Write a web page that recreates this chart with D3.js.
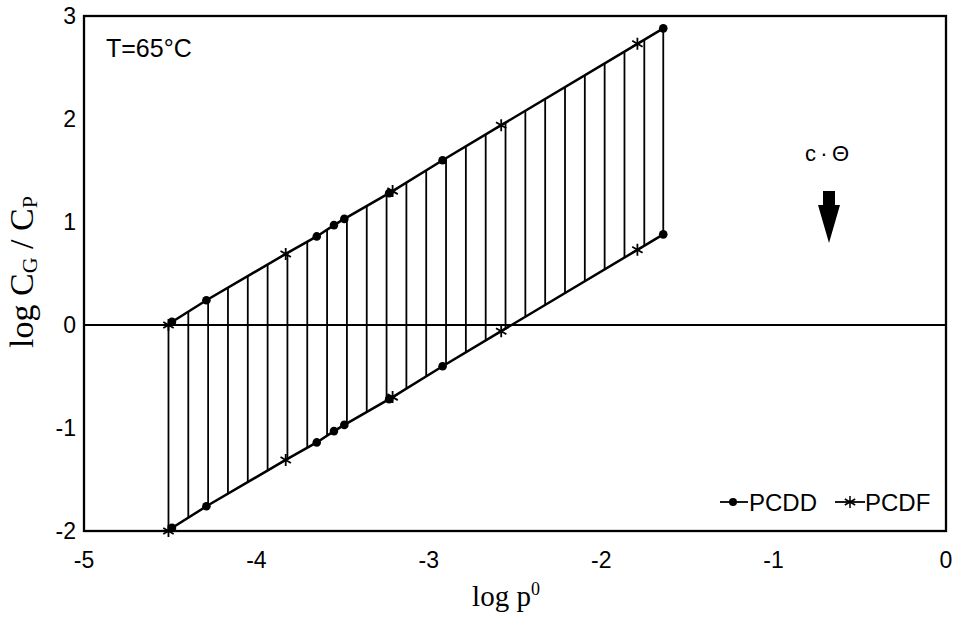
<!DOCTYPE html>
<html>
<head>
<meta charset="utf-8">
<script src="https://cdn.jsdelivr.net/npm/d3@7"></script>
<style>
  body { margin: 0; background: #fff; }
  svg { display: block; }
</style>
</head>
<body>
<svg id="chart" width="960" height="618"></svg>
<script>
// log p0 of the compounds
const pcddX = [-4.49, -4.29, -3.65, -3.55, -3.49, -3.23, -2.92, -1.64];
const pcddUpper = [0.03, 0.24, 0.86, 0.97, 1.03, 1.28, 1.60, 2.88];
const pcddLower = [-1.97, -1.76, -1.14, -1.03, -0.97, -0.72, -0.40, 0.88];

const pcdfX = [-4.51, -3.83, -3.21, -2.58, -1.79];
const pcdfUpper = [0.00, 0.69, 1.30, 1.94, 2.73];
const pcdfLower = [-2.00, -1.31, -0.70, -0.06, 0.73];

// vertical hatch lines between the two boundaries
const hatchX = [-4.51, -4.395, -4.28, -4.165, -4.05, -3.935, -3.82, -3.705, -3.59,
  -3.475, -3.36, -3.245, -3.13, -3.015, -2.90, -2.785, -2.67, -2.555, -2.44,
  -2.325, -2.21, -2.095, -1.98, -1.865, -1.75, -1.64];

const xTicks = [-5, -4, -3, -2, -1, 0];
const yTicks = [-2, -1, 0, 1, 2, 3];

const margin = {top: 16, left: 84, right: 14, bottom: 87};
const width = 960, height = 618;

const svg = d3.select("#chart");

const x = d3.scaleLinear().domain([-5, 0]).range([margin.left, width - margin.right]);
const y = d3.scaleLinear().domain([-2, 3]).range([height - margin.bottom, margin.top]);

const sansFont = "'Liberation Sans', Arial, sans-serif";
const serifFont = "'Liberation Serif', 'Times New Roman', serif";

// boundary lines through all points, sorted by x
function boundary(xs1, ys1, xs2, ys2) {
  const pts = xs1.map((v, i) => [v, ys1[i]]).concat(xs2.map((v, i) => [v, ys2[i]]));
  return pts.sort((a, b) => a[0] - b[0]);
}
const upperPts = boundary(pcddX, pcddUpper, pcdfX, pcdfUpper);
const lowerPts = boundary(pcddX, pcddLower, pcdfX, pcdfLower);

const upperAt = d3.scaleLinear().domain(upperPts.map(d => d[0])).range(upperPts.map(d => d[1])).clamp(true);
const lowerAt = d3.scaleLinear().domain(lowerPts.map(d => d[0])).range(lowerPts.map(d => d[1])).clamp(true);

// hatch
svg.append("g")
  .selectAll("line")
  .data(hatchX)
  .join("line")
  .attr("x1", d => x(d)).attr("x2", d => x(d))
  .attr("y1", d => y(lowerAt(d)))
  .attr("y2", d => y(upperAt(d)))
  .attr("stroke", "#000")
  .attr("stroke-width", 1.8);

// zero line
svg.append("line")
  .attr("x1", x(-5)).attr("x2", x(0))
  .attr("y1", y(0)).attr("y2", y(0))
  .attr("stroke", "#000")
  .attr("stroke-width", 1.8);

const line = d3.line().x(d => x(d[0])).y(d => y(d[1]));
[upperPts, lowerPts].forEach(pts => {
  svg.append("path")
    .attr("d", line(pts))
    .attr("fill", "none")
    .attr("stroke", "#000")
    .attr("stroke-width", 2.5);
});

// frame
svg.append("rect")
  .attr("x", x(-5)).attr("y", y(3))
  .attr("width", x(0) - x(-5))
  .attr("height", y(-2) - y(3))
  .attr("fill", "none")
  .attr("stroke", "#000")
  .attr("stroke-width", 2.3);

// markers
const starPath = "M0,-6L0,6M-5.2,-3L5.2,3M-5.2,3L5.2,-3";

function drawDots(xs, ys) {
  svg.append("g").selectAll("circle")
    .data(xs.map((v, i) => [v, ys[i]]))
    .join("circle")
    .attr("cx", d => x(d[0]))
    .attr("cy", d => y(d[1]))
    .attr("r", 4.3)
    .attr("fill", "#000");
}
function drawStars(xs, ys) {
  svg.append("g").selectAll("path")
    .data(xs.map((v, i) => [v, ys[i]]))
    .join("path")
    .attr("transform", d => `translate(${x(d[0])},${y(d[1])})`)
    .attr("d", starPath)
    .attr("stroke", "#000")
    .attr("stroke-width", 1.8);
}
drawDots(pcddX, pcddUpper);
drawDots(pcddX, pcddLower);
drawStars(pcdfX, pcdfUpper);
drawStars(pcdfX, pcdfLower);

// tick labels
svg.append("g").selectAll("text")
  .data(xTicks)
  .join("text")
  .attr("x", d => x(d))
  .attr("y", y(-2) + 37)
  .attr("text-anchor", "middle")
  .attr("font-family", sansFont)
  .attr("font-size", 23)
  .text(d => d < 0 ? "-" + Math.abs(d) : d);

svg.append("g").selectAll("text")
  .data(yTicks)
  .join("text")
  .attr("x", x(-5) - 8)
  .attr("y", d => y(d) + 8)
  .attr("text-anchor", "end")
  .attr("font-family", sansFont)
  .attr("font-size", 23)
  .text(d => d < 0 ? "-" + Math.abs(d) : d);

// axis titles
const xt = svg.append("text")
  .attr("x", 506).attr("y", 606)
  .attr("text-anchor", "middle")
  .attr("font-family", serifFont)
  .attr("font-size", 29);
xt.append("tspan").text("log p");
xt.append("tspan").attr("dy", -11).attr("font-size", 18).text("0");

const yt = svg.append("text")
  .attr("transform", "translate(33,272) rotate(-90)")
  .attr("text-anchor", "middle")
  .attr("font-family", serifFont)
  .attr("font-size", 34);
yt.append("tspan").text("log C");
yt.append("tspan").attr("dy", 4).attr("font-size", 22).text("G");
yt.append("tspan").attr("dy", -4).text(" / C");
yt.append("tspan").attr("dy", 4).attr("font-size", 22).text("P");

// annotations
svg.append("text")
  .attr("x", 106).attr("y", 57)
  .attr("font-family", sansFont)
  .attr("font-size", 25)
  .text("T=65°C");

svg.append("text")
  .attr("x", 827).attr("y", 161)
  .attr("text-anchor", "middle")
  .attr("font-family", sansFont)
  .attr("font-size", 22)
  .text("c\u2009·\u2009Θ");

svg.append("path")
  .attr("d", "M823,191H835V205H840L829,243L818,205H823Z")
  .attr("fill", "#000");

// legend
const legendY = 502;
svg.append("line").attr("x1", 720).attr("x2", 748).attr("y1", legendY).attr("y2", legendY)
  .attr("stroke", "#000").attr("stroke-width", 1.8);
svg.append("circle").attr("cx", 733).attr("cy", legendY).attr("r", 4).attr("fill", "#000");
svg.append("text").attr("x", 749).attr("y", legendY + 9)
  .attr("font-family", sansFont).attr("font-size", 24).text("PCDD");

svg.append("line").attr("x1", 835).attr("x2", 865).attr("y1", legendY).attr("y2", legendY)
  .attr("stroke", "#000").attr("stroke-width", 1.8);
svg.append("path").attr("transform", `translate(850,${legendY})`).attr("d", starPath)
  .attr("stroke", "#000").attr("stroke-width", 1.5);
svg.append("text").attr("x", 865).attr("y", legendY + 9)
  .attr("font-family", sansFont).attr("font-size", 24).text("PCDF");
</script>
</body>
</html>
